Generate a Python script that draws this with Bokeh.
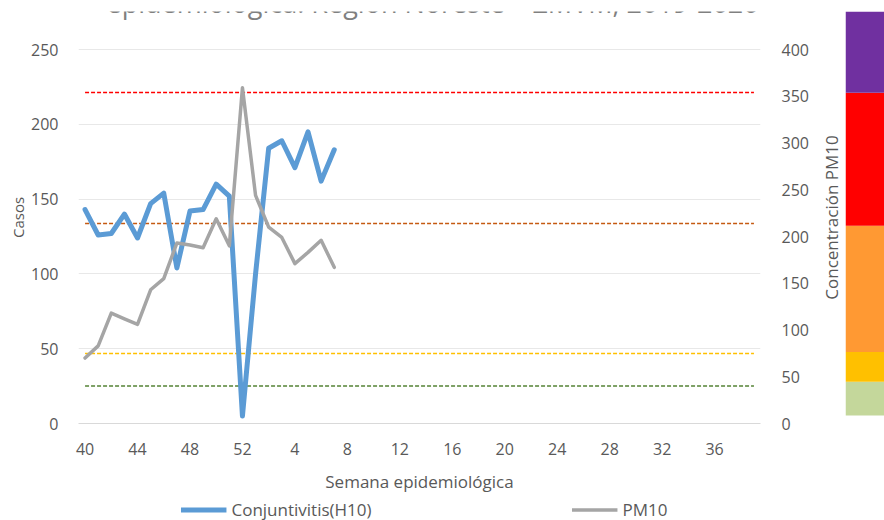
import math
from bokeh.plotting import figure
from bokeh.models import Range1d, LinearAxis, FixedTicker, Label, Legend, LegendItem, ColumnDataSource
from bokeh.layouts import row, column
from bokeh.embed import file_html
from bokeh.resources import INLINE

# ---- data ----
weeks = list(range(40, 53)) + list(range(1, 40))
conjuntivitis = [143, 126, 127, 140, 124, 147, 154, 104, 142, 143, 160, 152, 5,
                 100, 184, 189, 171, 195, 162, 183]
pm10 = [70, 83, 118, 112, 106, 143, 155, 193, 191, 188, 219, 190, 359,
        244, 210, 199, 171, 183, 196, 167]
tick_weeks = [40, 44, 48, 52, 4, 8, 12, 16, 20, 24, 28, 32, 36]
left_ticks = [0, 50, 100, 150, 200, 250]
right_ticks = [0, 50, 100, 150, 200, 250, 300, 350, 400]
thresholds = [40, 75, 214, 354]
threshold_colors = ["#548235", "#FFC000", "#C55A11", "#FF0000"]
band_bounds = [0, 36, 68, 203, 345, 432]
band_colors = ["#C4D79B", "#FFC000", "#FF9933", "#FF0000", "#7030A0"]
title_text = "epidemiológica. Región Noreste – ZMVM, 2019-2020"

FONT = "Open Sans"
TXT = "#595959"
BLUE = "#5B9BD5"
GRAY = "#A5A5A5"

idx = list(range(len(weeks)))
src_c = ColumnDataSource(dict(x=idx[:len(conjuntivitis)], y=conjuntivitis))
src_p = ColumnDataSource(dict(x=idx[:len(pm10)], y=pm10))

# frame: x 78..760, y 11..423 (250 on the left axis sits at y=49)
LEFT_TOP = 250 * 412 / 374
RIGHT_TOP = 400 * 412 / 374
MAIN_H = 498
BOTTOM = MAIN_H - 423


def strip(fig):
    fig.grid.visible = False
    fig.outline_line_color = None
    fig.background_fill_color = "white"
    fig.border_fill_color = "white"


p = figure(width=815, height=MAIN_H, output_backend="svg", toolbar_location=None,
           x_range=Range1d(-0.5, len(weeks) - 0.5), y_range=Range1d(0, LEFT_TOP),
           min_border_left=78, min_border_right=55, min_border_top=11,
           min_border_bottom=BOTTOM)
p.outline_line_color = None
p.background_fill_color = "white"
p.border_fill_color = "white"
p.extra_y_ranges = {"pm": Range1d(0, RIGHT_TOP)}

# axes
p.xaxis.ticker = FixedTicker(ticks=[weeks.index(w) for w in tick_weeks])
p.xaxis.major_label_overrides = {weeks.index(w): str(w) for w in tick_weeks}
p.xaxis.axis_line_color = "#D9D9D9"
p.xaxis.axis_line_width = 1
p.xaxis.major_tick_line_color = None
p.xaxis.minor_tick_line_color = None
p.xaxis.major_tick_out = 0
p.xaxis.major_tick_in = 0
p.xaxis.major_label_standoff = 19
p.xaxis.major_label_text_font = FONT
p.xaxis.major_label_text_font_size = "16px"
p.xaxis.major_label_text_color = TXT
p.xaxis.axis_label = "Semana epidemiológica"
p.xaxis.axis_label_text_font = FONT
p.xaxis.axis_label_text_font_size = "17px"
p.xaxis.axis_label_text_font_style = "normal"
p.xaxis.axis_label_text_color = TXT
p.xaxis.axis_label_standoff = 12

ly = p.yaxis[0]
ly.ticker = FixedTicker(ticks=left_ticks)
ly.axis_line_color = None
ly.major_tick_line_color = None
ly.minor_tick_line_color = None
ly.major_tick_out = 0
ly.major_tick_in = 0
ly.major_label_standoff = 20
ly.major_label_text_font = FONT
ly.major_label_text_font_size = "16px"
ly.major_label_text_color = TXT
ly.axis_label = "Casos"
ly.axis_label_text_font = FONT
ly.axis_label_text_font_size = "15px"
ly.axis_label_text_font_style = "normal"
ly.axis_label_text_color = TXT
ly.axis_label_standoff = 0

ry = LinearAxis(y_range_name="pm", ticker=FixedTicker(ticks=right_ticks))
ry.axis_line_color = None
ry.major_tick_line_color = None
ry.minor_tick_line_color = None
ry.major_tick_out = 0
ry.major_tick_in = 0
ry.major_label_standoff = 21
ry.major_label_text_font = FONT
ry.major_label_text_font_size = "16px"
ry.major_label_text_color = TXT
p.add_layout(ry, "right")

p.xgrid.visible = False
p.ygrid.grid_line_color = "#E8E8E8"
p.ygrid.grid_line_width = 1

# threshold lines (right axis)
for t_val, c in zip(thresholds, threshold_colors):
    p.line(idx, [t_val] * len(idx), y_range_name="pm", line_color=c,
           line_width=1.5, line_dash="4 2")

p.line("x", "y", source=src_c, line_color=BLUE, line_width=5,
       line_join="round", line_cap="round")
p.line("x", "y", source=src_p, y_range_name="pm", line_color=GRAY,
       line_width=3.5, line_join="round", line_cap="round")

# cut-off title at the top edge
p.add_layout(Label(x=26.5, y=281.5, text=title_text, text_align="center",
                   text_baseline="alphabetic", text_font=FONT,
                   text_font_size="27px", text_color="#808080"))

# narrow strip carrying the right-hand axis title (reads bottom to top)
t = figure(width=30, height=MAIN_H, output_backend="svg", toolbar_location=None,
           x_range=Range1d(0, 1), y_range=Range1d(0, RIGHT_TOP),
           min_border_left=27, min_border_right=0, min_border_top=11,
           min_border_bottom=BOTTOM, x_axis_location=None)
strip(t)
ta = t.yaxis[0]
ta.ticker = FixedTicker(ticks=[])
ta.axis_line_color = None
ta.major_tick_line_color = None
ta.minor_tick_line_color = None
ta.major_tick_out = 0
ta.major_tick_in = 0
ta.major_label_standoff = 0
ta.axis_label = "Concentración PM10"
ta.axis_label_text_font = FONT
ta.axis_label_text_font_size = "17px"
ta.axis_label_text_font_style = "normal"
ta.axis_label_text_color = TXT
ta.axis_label_standoff = 0

# colour bar of PM10 categories
b = figure(width=39, height=MAIN_H, output_backend="svg", toolbar_location=None,
           x_range=Range1d(0, 1), y_range=Range1d(-8 / 0.935, band_bounds[-1]),
           min_border_left=0, min_border_right=0, min_border_top=11,
           min_border_bottom=BOTTOM,
           x_axis_location=None, y_axis_location=None)
strip(b)
b.quad(left=0, right=1, bottom=band_bounds[:-1], top=band_bounds[1:],
       fill_color=band_colors, line_color=None)

# legend strip (its lines use the series data, which lies outside this strip's range)
lf = figure(width=884, height=520 - MAIN_H, output_backend="svg", toolbar_location=None,
            x_range=Range1d(-1000, -999), y_range=Range1d(-1000, -999),
            min_border_left=83, min_border_right=119, min_border_top=0, min_border_bottom=0,
            x_axis_location=None, y_axis_location=None)
strip(lf)
lg_c = lf.line("x", "y", source=src_c, line_color=BLUE, line_width=5)
lg_p = lf.line("x", "y", source=src_p, line_color=GRAY, line_width=3.5)
legend = Legend(items=[LegendItem(label="Conjuntivitis(H10)", renderers=[lg_c]),
                       LegendItem(label="PM10", renderers=[lg_p])],
                location="center", orientation="horizontal",
                glyph_width=46, glyph_height=18, label_height=18,
                label_standoff=5, spacing=200,
                padding=0, margin=0, border_line_color=None,
                background_fill_alpha=0,
                label_text_font=FONT, label_text_font_size="17px",
                label_text_color=TXT)
lf.add_layout(legend)

layout = column(row(p, t, b), lf)
open("out.html", "w").write(file_html(layout, INLINE))
